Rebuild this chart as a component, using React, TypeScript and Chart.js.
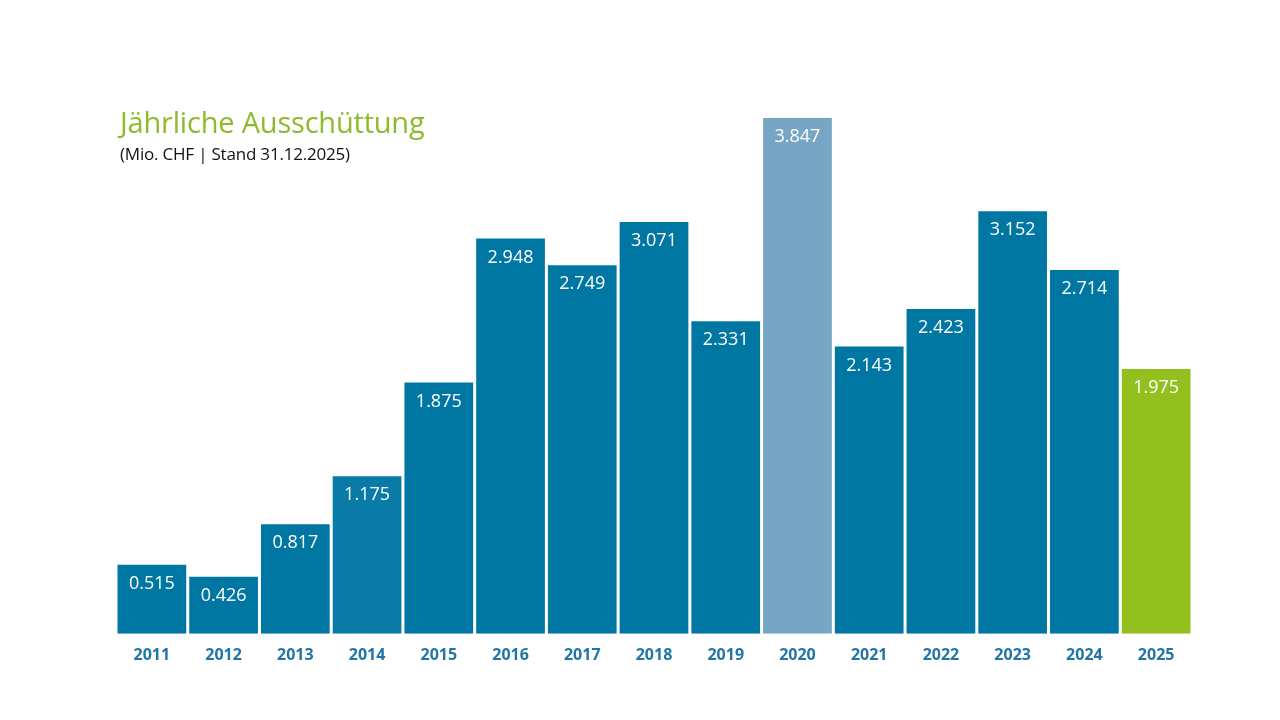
import React, { useEffect, useRef } from "react";
import { Chart, registerables } from "chart.js";

Chart.register(...registerables);

const years = ["2011","2012","2013","2014","2015","2016","2017","2018","2019","2020","2021","2022","2023","2024","2025"];
const payouts = [0.515, 0.426, 0.817, 1.175, 1.875, 2.948, 2.749, 3.071, 2.331, 3.847, 2.143, 2.423, 3.152, 2.714, 1.975];
const barColors = ["#0077A3","#0077A3","#0077A3","#0A7BA6","#0077A3","#0077A3","#0077A3","#0077A3","#0077A3","#77A6C4","#0077A3","#0077A3","#0077A3","#0077A3","#93C01F"];
const valueLabels = ["0.515","0.426","0.817","1.175","1.875","2.948","2.749","3.071","2.331","3.847","2.143","2.423","3.152","2.714","1.975"];

const FONT = "'Open Sans', 'Noto Sans', sans-serif";

const valuePlugin = {
  id: "valueLabels",
  afterDatasetsDraw(chart: any) {
    const ctx = chart.ctx;
    const meta = chart.getDatasetMeta(0);
    ctx.save();
    ctx.fillStyle = "#ffffff";
    ctx.font = `18px ${FONT}`;
    ctx.textAlign = "center";
    ctx.textBaseline = "middle";
    meta.data.forEach((bar: any, i: number) => {
      ctx.fillText(valueLabels[i], bar.x, bar.y + 19);
    });
    ctx.restore();
  },
};

export default function App() {
  const ref = useRef<HTMLCanvasElement>(null);
  useEffect(() => {
    document.body.style.margin = "0";
    const chart = new Chart(ref.current!, {
      type: "bar",
      data: {
        labels: years,
        datasets: [{ data: payouts, backgroundColor: barColors, borderWidth: 0, categoryPercentage: 1, barPercentage: 0.958 }],
      },
      options: {
        animation: false,
        responsive: false,
        maintainAspectRatio: false,
        layout: { padding: { left: 116, right: 88, top: 118, bottom: 43 } },
        plugins: { legend: { display: false }, tooltip: { enabled: false }, title: { display: false } },
        scales: {
          x: {
            grid: { display: false, drawTicks: false, tickLength: 0 },
            border: { display: false },
            ticks: { color: "#2176A3", font: { family: FONT, size: 16, weight: "bold" }, padding: 12, maxRotation: 0 },
          },
          y: { display: false, min: 0, max: 3.847 },
        },
      },
      plugins: [valuePlugin],
    });
    return () => chart.destroy();
  }, []);
  return (
    <div style={{ position: "relative", width: 1280, height: 720, background: "#fff", overflow: "hidden" }}>
      <canvas ref={ref} width={1280} height={720} style={{ position: "absolute", left: 0, top: 0, width: 1280, height: 720 }} />
      <div style={{ position: "absolute", left: 120, top: 102, fontFamily: FONT, fontSize: 29, color: "#8DBB2B", whiteSpace: "nowrap", letterSpacing: -0.2 }}>
        Jährliche Ausschüttung
      </div>
      <div style={{ position: "absolute", left: 120, top: 142, fontFamily: FONT, fontSize: 17, color: "#111", whiteSpace: "nowrap", letterSpacing: -0.2 }}>
        (Mio. CHF | Stand 31.12.2025)
      </div>
    </div>
  );
}
